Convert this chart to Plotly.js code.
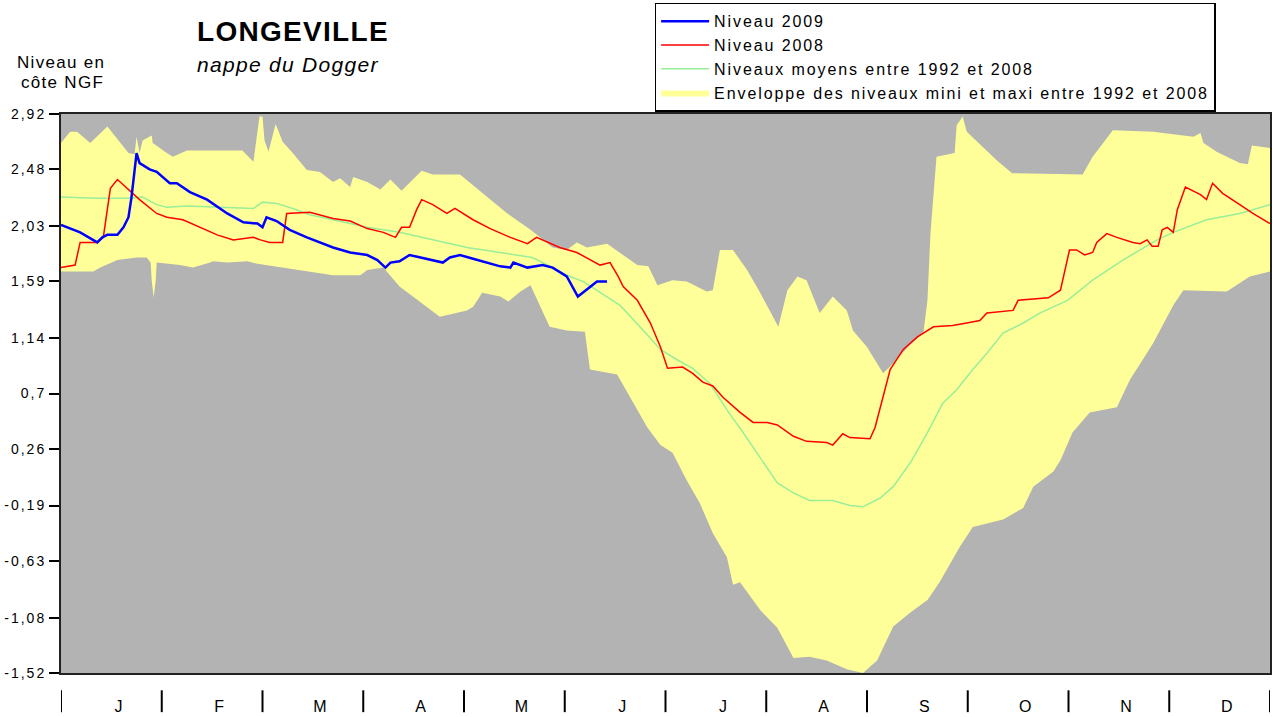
<!DOCTYPE html>
<html>
<head>
<meta charset="utf-8">
<script src="https://cdn.plot.ly/plotly-3.0.1.min.js"></script>
<style>
html,body{margin:0;padding:0;background:#fff}
#chart{width:1273px;height:717px}
.ytick text{letter-spacing:2px}
.legendtext{letter-spacing:1.9px}
.annotation-text{letter-spacing:1.3px}
</style>
</head>
<body>
<div id="chart"></div>
<script>
// Month labels and y tick labels
const monthLabels = ["J","F","M","A","M","J","J","A","S","O","N","D"];
const yTickVals = [2.92, 2.48, 2.03, 1.59, 1.14, 0.7, 0.26, -0.19, -0.63, -1.08, -1.52];
const yTickText = ["2,92","2,48","2,03","1,59","1,14","0,7","0,26","-0,19","-0,63","-1,08","-1,52"];

// Envelope maximum (x in months from 1 January)
const maxX = [0,0.09,0.16,0.29,0.46,0.59,0.67,0.73,0.75,0.78,0.81,0.90,0.91,1.05,1.11,1.25,1.80,1.91,1.97,2.00,2.02,2.06,2.13,2.20,2.30,2.44,2.57,2.70,2.77,2.87,2.90,3.04,3.17,3.27,3.38,3.58,3.69,3.96,4.23,4.43,4.66,4.88,5.02,5.12,5.22,5.42,5.72,5.83,5.92,6.07,6.21,6.41,6.47,6.54,6.67,6.81,6.94,7.12,7.21,7.31,7.40,7.53,7.66,7.80,7.86,8.00,8.16,8.26,8.43,8.56,8.60,8.63,8.69,8.87,8.89,8.95,8.99,9.19,9.29,9.44,10.14,10.24,10.44,10.84,11.24,11.31,11.34,11.47,11.70,11.78,11.82,12.0];
const maxY = [2.69,2.78,2.78,2.69,2.82,2.69,2.61,2.60,2.74,2.61,2.71,2.75,2.69,2.61,2.58,2.63,2.63,2.54,2.90,2.90,2.71,2.62,2.84,2.70,2.61,2.475,2.46,2.38,2.41,2.34,2.42,2.38,2.32,2.40,2.31,2.47,2.44,2.44,2.26,2.13,2.00,1.86,1.84,1.90,1.86,1.89,1.72,1.71,1.56,1.60,1.59,1.51,1.52,1.84,1.84,1.68,1.50,1.23,1.52,1.63,1.60,1.34,1.47,1.36,1.20,1.07,0.86,0.94,1.09,1.18,1.44,1.97,2.58,2.61,2.83,2.90,2.78,2.63,2.55,2.45,2.44,2.58,2.79,2.78,2.74,2.77,2.69,2.62,2.53,2.52,2.67,2.65];

// Envelope minimum
const minX = [0,0.32,0.39,0.56,0.75,0.85,0.89,0.90,0.92,0.94,0.95,1.18,1.31,1.48,1.51,1.65,1.85,1.95,2.10,2.37,2.70,2.97,3.04,3.20,3.36,3.76,4.03,4.09,4.18,4.36,4.44,4.56,4.66,4.85,5.02,5.20,5.25,5.52,5.65,5.82,5.95,6.07,6.21,6.34,6.47,6.61,6.67,6.74,6.94,7.11,7.27,7.43,7.60,7.80,7.96,8.10,8.26,8.43,8.60,8.72,8.92,9.05,9.35,9.55,9.65,9.85,9.92,10.04,10.21,10.48,10.61,10.84,11.04,11.14,11.57,11.80,12.0];
const minY = [1.67,1.67,1.70,1.76,1.78,1.78,1.74,1.60,1.46,1.60,1.74,1.72,1.70,1.74,1.75,1.74,1.75,1.73,1.71,1.68,1.64,1.64,1.68,1.70,1.55,1.31,1.36,1.39,1.50,1.47,1.43,1.51,1.56,1.23,1.20,1.19,0.89,0.85,0.67,0.43,0.29,0.23,0.01,-0.17,-0.41,-0.60,-0.82,-0.80,-1.02,-1.16,-1.40,-1.39,-1.42,-1.49,-1.52,-1.42,-1.15,-1.04,-0.94,-0.80,-0.52,-0.36,-0.30,-0.21,-0.04,0.08,0.17,0.39,0.55,0.59,0.81,1.10,1.40,1.52,1.51,1.63,1.67];

// Mean levels 1992-2008
const meanX = [0,0.36,0.66,0.81,0.95,1.05,1.25,1.71,1.91,2.00,2.14,2.30,2.47,2.70,3.04,3.36,3.69,4.03,4.36,4.68,4.88,5.02,5.18,5.35,5.55,5.78,5.95,6.11,6.27,6.44,6.61,6.77,6.94,7.11,7.27,7.43,7.66,7.83,7.96,8.13,8.26,8.43,8.60,8.75,8.89,9.05,9.19,9.35,9.55,9.72,9.99,10.24,10.54,10.88,11.04,11.37,11.70,12.0];
const meanY = [2.26,2.25,2.25,2.26,2.20,2.18,2.19,2.18,2.17,2.22,2.21,2.17,2.12,2.08,2.02,1.98,1.92,1.86,1.82,1.78,1.70,1.64,1.59,1.50,1.40,1.20,1.05,0.97,0.90,0.78,0.57,0.39,0.19,-0.01,-0.09,-0.15,-0.15,-0.19,-0.20,-0.13,-0.04,0.15,0.39,0.62,0.73,0.89,1.02,1.18,1.26,1.34,1.44,1.60,1.76,1.92,1.98,2.08,2.13,2.20];

// Niveau 2008
const n2008X = [0,0.14,0.19,0.36,0.42,0.46,0.49,0.56,0.66,0.78,0.95,1.05,1.21,1.38,1.55,1.71,1.85,1.91,1.98,2.07,2.20,2.24,2.47,2.70,2.87,3.04,3.20,3.32,3.38,3.46,3.53,3.58,3.69,3.83,3.91,4.09,4.26,4.46,4.63,4.72,4.95,5.12,5.35,5.45,5.53,5.58,5.72,5.85,5.95,6.02,6.17,6.27,6.37,6.47,6.57,6.74,6.87,7.01,7.11,7.27,7.40,7.60,7.66,7.76,7.83,8.03,8.08,8.15,8.23,8.36,8.50,8.66,8.85,8.99,9.12,9.19,9.45,9.50,9.80,9.92,9.95,10.01,10.08,10.16,10.24,10.28,10.38,10.48,10.64,10.71,10.78,10.83,10.89,10.93,10.98,11.04,11.08,11.16,11.31,11.37,11.43,11.53,11.70,11.83,12.0];
const n2008Y = [1.70,1.72,1.90,1.90,1.94,2.16,2.33,2.40,2.33,2.24,2.13,2.10,2.08,2.02,1.96,1.92,1.93,1.94,1.92,1.90,1.90,2.13,2.14,2.09,2.07,2.01,1.98,1.94,2.02,2.02,2.16,2.24,2.20,2.13,2.17,2.08,2.01,1.94,1.89,1.94,1.86,1.82,1.72,1.74,1.63,1.55,1.44,1.26,1.07,0.90,0.91,0.86,0.79,0.76,0.67,0.55,0.47,0.47,0.45,0.36,0.32,0.31,0.29,0.38,0.35,0.34,0.43,0.65,0.89,1.05,1.15,1.23,1.24,1.26,1.28,1.34,1.36,1.44,1.46,1.52,1.63,1.84,1.84,1.80,1.82,1.90,1.97,1.94,1.90,1.89,1.92,1.87,1.87,2.00,2.02,1.98,2.16,2.34,2.28,2.24,2.37,2.29,2.20,2.13,2.05];

// Niveau 2009
const n2009X = [0,0.19,0.36,0.41,0.46,0.56,0.62,0.67,0.70,0.73,0.75,0.78,0.88,0.95,1.08,1.15,1.28,1.45,1.65,1.81,1.95,2.00,2.04,2.14,2.27,2.44,2.57,2.70,2.87,3.04,3.14,3.22,3.27,3.36,3.46,3.56,3.69,3.79,3.86,3.96,4.09,4.23,4.36,4.46,4.49,4.63,4.78,4.88,5.02,5.13,5.25,5.32,5.42];
const n2009Y = [2.04,1.98,1.90,1.94,1.96,1.96,2.02,2.10,2.26,2.50,2.61,2.53,2.48,2.46,2.37,2.37,2.30,2.24,2.13,2.06,2.05,2.02,2.10,2.07,2.00,1.94,1.90,1.86,1.82,1.80,1.76,1.70,1.74,1.75,1.80,1.78,1.76,1.74,1.78,1.80,1.77,1.74,1.71,1.70,1.74,1.70,1.72,1.70,1.63,1.47,1.55,1.59,1.59];

const monthLabelPos = monthLabels.map((_, i) => i + 0.57);
const monthEdges = Array.from({length: 13}, (_, i) => i);

const traces = [
  {
    x: maxX.concat(minX.slice().reverse()),
    y: maxY.concat(minY.slice().reverse()),
    type: 'scatter', mode: 'lines', fill: 'toself',
    fillcolor: '#ffff99', line: {width: 0, color: '#ffff99'},
    name: 'Enveloppe des niveaux mini et maxi entre 1992 et 2008',
    hoverinfo: 'skip'
  },
  {
    x: meanX, y: meanY, type: 'scatter', mode: 'lines',
    line: {color: '#99ee99', width: 1.5},
    name: 'Niveaux moyens entre 1992 et 2008'
  },
  {
    x: n2008X, y: n2008Y, type: 'scatter', mode: 'lines',
    line: {color: '#ff0000', width: 1.5},
    name: 'Niveau 2008'
  },
  {
    x: n2009X, y: n2009Y, type: 'scatter', mode: 'lines',
    line: {color: '#0000ff', width: 2.5},
    name: 'Niveau 2009'
  }
];

const shapes = monthEdges.map(m => ({
  type: 'line', xref: 'x', yref: 'paper',
  x0: m, x1: m, y0: -0.031, y1: -0.07,
  line: {color: '#000', width: 2}
}));

const layout = {
  width: 1273, height: 717,
  margin: {l: 61, r: 3, t: 114, b: 44},
  paper_bgcolor: '#ffffff',
  plot_bgcolor: '#b3b3b3',
  font: {family: 'Arial, "Liberation Sans", sans-serif', color: '#000'},
  showlegend: true,
  legend: {
    x: 0.491, y: 1.199, xanchor: 'left', yanchor: 'top',
    traceorder: 'reversed',
    bgcolor: '#ffffff', bordercolor: '#000', borderwidth: 1.5,
    font: {size: 16, color: '#000'},
    itemwidth: 48
  },
  xaxis: {
    range: [0, 12], fixedrange: true,
    tickvals: monthLabelPos, ticktext: monthLabels,
    ticks: '', showgrid: false, zeroline: false,
    showline: true, mirror: true, linecolor: '#222', linewidth: 2,
    tickfont: {size: 16, color: '#000'},
    ticklabelstandoff: 18
  },
  yaxis: {
    range: [-1.52, 2.92], fixedrange: true,
    tickvals: yTickVals, ticktext: yTickText,
    ticks: 'outside', ticklen: 10, tickwidth: 2, tickcolor: '#000',
    showgrid: false, zeroline: false,
    showline: true, mirror: true, linecolor: '#222', linewidth: 2,
    tickfont: {size: 14, color: '#000'}
  },
  shapes: shapes,
  annotations: [
    {text: '<b>LONGEVILLE</b>', xref: 'paper', yref: 'paper', x: (293-61)/1209, y: (673-31)/559,
     xanchor: 'center', yanchor: 'middle', showarrow: false, font: {size: 28, color: '#000'}},
    {text: '<i>nappe du Dogger</i>', xref: 'paper', yref: 'paper', x: (195-61)/1209, y: (673-65)/559,
     xanchor: 'left', yanchor: 'middle', showarrow: false, font: {size: 21, color: '#000'}},
    {text: 'Niveau en', xref: 'paper', yref: 'paper', x: (61-61)/1209, y: (673-62)/559,
     xanchor: 'center', yanchor: 'middle', showarrow: false, font: {size: 17, color: '#000'}},
    {text: 'côte NGF', xref: 'paper', yref: 'paper', x: (62-61)/1209, y: (673-82)/559,
     xanchor: 'center', yanchor: 'middle', showarrow: false, font: {size: 17, color: '#000'}}
  ]
};

Plotly.newPlot('chart', traces, layout, {displayModeBar: false, staticPlot: true});
</script>
</body>
</html>
